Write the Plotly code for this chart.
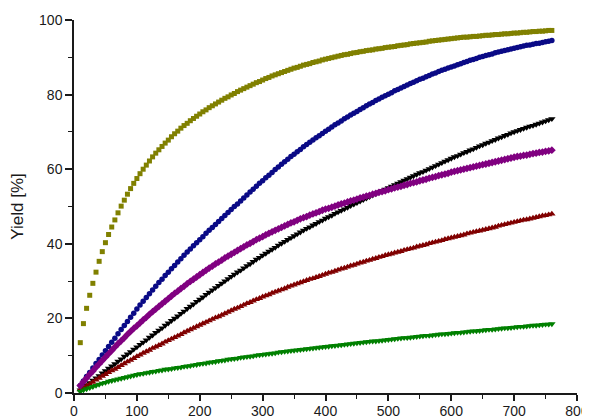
import plotly.graph_objects as go

x_time = list(range(10, 765, 5))

yield_olive = [
    13.5, 18.6, 22.7, 26.2, 29.4, 32.4, 35.3, 37.9, 40.3, 42.5, 44.5, 46.4, 48.3, 50.1, 51.7, 53.3, 54.8, 56.2, 57.5,
    58.8, 60.0, 61.1, 62.2, 63.3, 64.3, 65.2, 66.1, 67.0, 67.8, 68.7, 69.5, 70.2, 71.0, 71.7, 72.3, 73.0, 73.6, 74.2, 74.8,
    75.4, 75.9, 76.5, 77.0, 77.5, 78.0, 78.5, 79.0, 79.4, 79.9, 80.3, 80.8, 81.2, 81.6, 82.0, 82.4, 82.8, 83.2, 83.5, 83.9,
    84.3, 84.6, 85.0, 85.3, 85.6, 85.9, 86.2, 86.5, 86.8, 87.1, 87.3, 87.6, 87.9, 88.1, 88.3, 88.6, 88.8, 89.0, 89.3, 89.5,
    89.7, 89.9, 90.1, 90.3, 90.5, 90.7, 90.8, 91.0, 91.2, 91.3, 91.5, 91.6, 91.8, 91.9, 92.0, 92.2, 92.3, 92.4, 92.6, 92.7,
    92.8, 92.9, 93.1, 93.2, 93.3, 93.4, 93.6, 93.7, 93.8, 93.9, 94.0, 94.1, 94.3, 94.4, 94.5, 94.6, 94.7, 94.8, 94.9, 95.0,
    95.1, 95.2, 95.3, 95.4, 95.4, 95.5, 95.6, 95.6, 95.7, 95.8, 95.9, 95.9, 96.0, 96.1, 96.1, 96.2, 96.3, 96.3, 96.4, 96.5,
    96.5, 96.6, 96.7, 96.7, 96.8, 96.9, 96.9, 97.0, 97.0, 97.1, 97.2, 97.2,
]

yield_navy = [
    2.0, 3.2, 4.4, 5.5, 6.7, 7.9, 9.0, 10.2, 11.3, 12.5, 13.6, 14.7, 15.9, 17.0, 18.1, 19.2, 20.3, 21.4, 22.5,
    23.6, 24.6, 25.6, 26.6, 27.6, 28.6, 29.6, 30.5, 31.5, 32.4, 33.3, 34.2, 35.1, 36.0, 36.9, 37.8, 38.6, 39.5, 40.3, 41.1,
    41.9, 42.8, 43.6, 44.4, 45.2, 46.0, 46.8, 47.6, 48.4, 49.2, 50.0, 50.7, 51.5, 52.3, 53.1, 53.9, 54.6, 55.4, 56.2, 56.9,
    57.7, 58.4, 59.1, 59.9, 60.6, 61.3, 62.0, 62.7, 63.4, 64.0, 64.7, 65.3, 66.0, 66.6, 67.2, 67.8, 68.4, 69.0, 69.6, 70.2,
    70.7, 71.3, 71.9, 72.4, 72.9, 73.5, 74.0, 74.5, 75.0, 75.5, 76.0, 76.5, 77.0, 77.5, 77.9, 78.4, 78.8, 79.3, 79.7, 80.1,
    80.5, 81.0, 81.4, 81.8, 82.2, 82.6, 83.0, 83.3, 83.7, 84.1, 84.4, 84.8, 85.1, 85.5, 85.8, 86.2, 86.5, 86.8, 87.1, 87.4,
    87.7, 88.0, 88.3, 88.6, 88.9, 89.2, 89.4, 89.7, 90.0, 90.2, 90.5, 90.7, 90.9, 91.2, 91.4, 91.6, 91.8, 92.0, 92.2, 92.4,
    92.6, 92.8, 93.0, 93.2, 93.3, 93.5, 93.7, 93.8, 94.0, 94.2, 94.3, 94.5,
]

yield_black = [
    0.8, 1.4, 2.1, 2.7, 3.4, 4.0, 4.6, 5.3, 5.9, 6.6, 7.2, 7.8, 8.5, 9.1, 9.8, 10.4, 11.0, 11.7, 12.3,
    13.0, 13.6, 14.2, 14.9, 15.5, 16.2, 16.8, 17.4, 18.1, 18.7, 19.4, 20.0, 20.6, 21.3, 21.9, 22.6, 23.2, 23.8, 24.5, 25.1,
    25.7, 26.4, 27.0, 27.6, 28.2, 28.8, 29.4, 30.0, 30.6, 31.2, 31.8, 32.4, 32.9, 33.5, 34.1, 34.6, 35.2, 35.8, 36.3, 36.9,
    37.4, 38.0, 38.5, 39.0, 39.6, 40.1, 40.6, 41.1, 41.6, 42.1, 42.6, 43.1, 43.6, 44.1, 44.5, 45.0, 45.4, 45.9, 46.3, 46.8,
    47.2, 47.6, 48.1, 48.5, 48.9, 49.3, 49.7, 50.2, 50.6, 51.0, 51.4, 51.8, 52.2, 52.6, 53.0, 53.4, 53.8, 54.2, 54.6, 55.0,
    55.4, 55.8, 56.2, 56.6, 57.0, 57.4, 57.8, 58.2, 58.6, 59.0, 59.3, 59.7, 60.1, 60.5, 60.9, 61.3, 61.7, 62.1, 62.5, 62.9,
    63.3, 63.6, 64.0, 64.4, 64.7, 65.1, 65.4, 65.8, 66.2, 66.5, 66.9, 67.2, 67.6, 67.9, 68.3, 68.6, 69.0, 69.3, 69.7, 70.0,
    70.3, 70.6, 70.9, 71.2, 71.5, 71.7, 72.0, 72.3, 72.6, 72.9, 73.2, 73.5,
]

yield_wine = [
    0.9, 1.4, 1.9, 2.4, 2.9, 3.5, 4.0, 4.5, 5.0, 5.5, 6.0, 6.4, 6.9, 7.4, 7.9, 8.4, 8.8, 9.3, 9.8,
    10.2, 10.7, 11.1, 11.5, 12.0, 12.4, 12.8, 13.2, 13.7, 14.1, 14.5, 14.9, 15.3, 15.7, 16.2, 16.6, 17.0, 17.4, 17.8, 18.2,
    18.6, 19.0, 19.4, 19.8, 20.2, 20.5, 20.9, 21.3, 21.7, 22.1, 22.5, 22.8, 23.2, 23.6, 24.0, 24.3, 24.7, 25.1, 25.4, 25.8,
    26.1, 26.4, 26.8, 27.1, 27.4, 27.7, 28.0, 28.4, 28.7, 29.0, 29.3, 29.6, 29.9, 30.2, 30.5, 30.7, 31.0, 31.3, 31.6, 31.9,
    32.2, 32.4, 32.7, 33.0, 33.3, 33.5, 33.8, 34.1, 34.3, 34.6, 34.9, 35.1, 35.4, 35.6, 35.9, 36.1, 36.4, 36.6, 36.9, 37.1,
    37.3, 37.6, 37.8, 38.0, 38.3, 38.5, 38.7, 38.9, 39.2, 39.4, 39.6, 39.8, 40.1, 40.3, 40.5, 40.7, 40.9, 41.2, 41.4, 41.6,
    41.8, 42.0, 42.2, 42.4, 42.7, 42.9, 43.1, 43.3, 43.5, 43.7, 43.9, 44.1, 44.3, 44.5, 44.8, 45.0, 45.2, 45.4, 45.6, 45.8,
    46.0, 46.2, 46.4, 46.5, 46.7, 46.9, 47.1, 47.3, 47.5, 47.6, 47.8, 48.0,
]

yield_green = [
    0.4, 0.8, 1.1, 1.4, 1.7, 2.0, 2.3, 2.6, 2.8, 3.1, 3.3, 3.5, 3.7, 3.9, 4.1, 4.3, 4.5, 4.7, 4.9,
    5.1, 5.2, 5.4, 5.5, 5.7, 5.8, 6.0, 6.1, 6.3, 6.4, 6.5, 6.7, 6.8, 6.9, 7.1, 7.2, 7.3, 7.5, 7.6, 7.8,
    7.9, 8.0, 8.2, 8.3, 8.4, 8.6, 8.7, 8.8, 9.0, 9.1, 9.2, 9.3, 9.5, 9.6, 9.7, 9.8, 9.9, 10.1, 10.2, 10.3,
    10.4, 10.5, 10.6, 10.7, 10.9, 11.0, 11.1, 11.2, 11.3, 11.4, 11.5, 11.6, 11.7, 11.8, 11.9, 12.0, 12.1, 12.2, 12.3, 12.4,
    12.5, 12.6, 12.7, 12.8, 12.9, 13.0, 13.1, 13.2, 13.3, 13.4, 13.5, 13.6, 13.7, 13.8, 13.9, 13.9, 14.0, 14.1, 14.2, 14.3,
    14.4, 14.5, 14.6, 14.7, 14.8, 14.8, 14.9, 15.0, 15.1, 15.2, 15.3, 15.4, 15.4, 15.5, 15.6, 15.7, 15.8, 15.8, 15.9, 16.0,
    16.1, 16.2, 16.2, 16.3, 16.4, 16.5, 16.6, 16.6, 16.7, 16.8, 16.9, 17.0, 17.0, 17.1, 17.2, 17.3, 17.4, 17.4, 17.5, 17.6,
    17.7, 17.8, 17.8, 17.9, 18.0, 18.1, 18.1, 18.2, 18.3, 18.4, 18.4, 18.5,
]

yield_purple = [
    2.0, 3.0, 4.0, 5.0, 5.9, 6.9, 7.8, 8.7, 9.6, 10.5, 11.4, 12.3, 13.2, 14.0, 14.8, 15.7, 16.5, 17.3, 18.0,
    18.8, 19.6, 20.3, 21.1, 21.8, 22.5, 23.2, 23.9, 24.6, 25.3, 26.0, 26.7, 27.3, 28.0, 28.6, 29.3, 29.9, 30.5, 31.1, 31.7,
    32.3, 32.9, 33.5, 34.0, 34.6, 35.1, 35.6, 36.2, 36.7, 37.2, 37.7, 38.2, 38.7, 39.2, 39.7, 40.1, 40.6, 41.1, 41.5, 41.9,
    42.4, 42.8, 43.2, 43.6, 44.0, 44.4, 44.8, 45.2, 45.6, 45.9, 46.3, 46.7, 47.0, 47.3, 47.7, 48.0, 48.3, 48.6, 49.0, 49.3,
    49.5, 49.8, 50.1, 50.4, 50.7, 50.9, 51.2, 51.5, 51.7, 52.0, 52.3, 52.5, 52.8, 53.0, 53.3, 53.5, 53.8, 54.0, 54.2, 54.5,
    54.7, 55.0, 55.2, 55.4, 55.7, 55.9, 56.2, 56.4, 56.6, 56.9, 57.1, 57.3, 57.6, 57.8, 58.0, 58.3, 58.5, 58.7, 58.9, 59.2,
    59.4, 59.6, 59.8, 60.0, 60.2, 60.4, 60.6, 60.8, 61.0, 61.2, 61.4, 61.6, 61.8, 62.0, 62.2, 62.4, 62.6, 62.8, 63.0, 63.2,
    63.4, 63.5, 63.7, 63.8, 64.0, 64.2, 64.3, 64.5, 64.6, 64.8, 64.9, 65.1,
]

x_ticks = [0, 100, 200, 300, 400, 500, 600, 700, 800]
y_ticks = [0, 20, 40, 60, 80, 100]

series = [
    (yield_olive, "#808000", "square", 5),
    (yield_navy, "#0a0a86", "circle", 5.5),
    (yield_black, "#000000", "triangle-down", 6.5),
    (yield_wine, "#800000", "triangle-up", 6.5),
    (yield_green, "#008000", "triangle-down", 6.5),
    (yield_purple, "#800080", "diamond", 6),
]

fig = go.Figure()
for vals, color, sym, size in series:
    fig.add_trace(go.Scatter(
        x=x_time, y=vals, mode="markers",
        marker=dict(symbol=sym, size=size, color=color, line=dict(width=0)),
        showlegend=False, cliponaxis=False,
    ))

# The page body adds an 8px offset, so the figure is sized to the visible area.
font_family = "Liberation Sans, Arial, sans-serif"
fig.update_layout(
    width=582, height=411,
    margin=dict(l=66, r=13, t=12, b=26),
    paper_bgcolor="white", plot_bgcolor="white",
    font=dict(family=font_family, size=14, color="#1a1a1a"),
)
fig.update_xaxes(
    range=[0, 800], tickvals=x_ticks, ticktext=[str(v) for v in x_ticks],
    showline=True, linecolor="#1a1a1a", linewidth=1.5,
    ticks="outside", ticklen=6, tickwidth=1.5, tickcolor="#1a1a1a",
    minor=dict(ticks="outside", ticklen=4, tickwidth=1.2, tickcolor="#1a1a1a", dtick=50, tick0=0),
    showgrid=False, zeroline=False, automargin=False,
    tickfont=dict(size=14), ticklabelstandoff=-2,
)
fig.update_yaxes(
    range=[0, 100], tickvals=y_ticks, ticktext=[str(v) for v in y_ticks],
    showline=True, linecolor="#1a1a1a", linewidth=1.5,
    ticks="outside", ticklen=7, tickwidth=1.5, tickcolor="#1a1a1a",
    minor=dict(ticks="outside", ticklen=4, tickwidth=1.2, tickcolor="#1a1a1a", dtick=10, tick0=0),
    showgrid=False, zeroline=False, automargin=False,
    tickfont=dict(size=14),
    title=dict(text="Yield [%]", font=dict(size=17), standoff=14),
)

fig.write_html("out.html")
